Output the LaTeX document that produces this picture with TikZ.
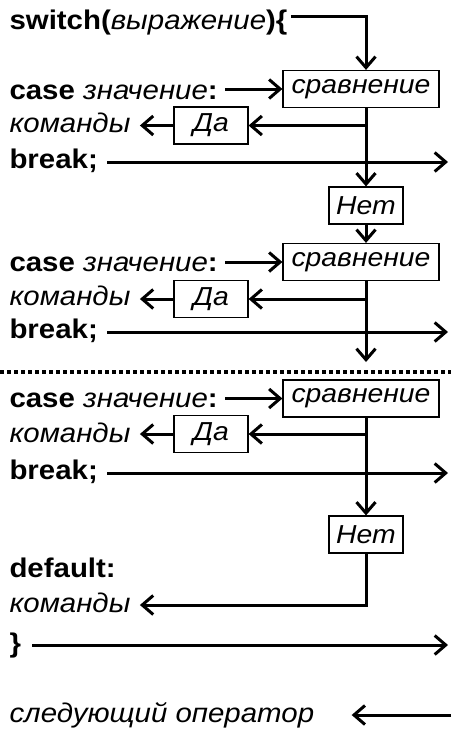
\documentclass[tikz,border=0pt]{standalone}
\usepackage{fontspec}
\setmainfont{Liberation Sans}[FakeStretch=1.09]
\usetikzlibrary{positioning,arrows.meta}

\begin{document}
\begin{tikzpicture}[x=1pt,y=-1pt,line width=3pt,
      font=\fontsize{27}{32}\selectfont,
      txt/.style={anchor=base west,inner sep=0pt},
      box/.style={draw,line width=1.2pt,inner sep=0pt,minimum height=37pt,font=\fontsize{26}{31}\selectfont\itshape},
      arr/.style={-{Straight Barb[length=11pt,width=19pt]}}]
    \useasboundingbox (0,0) rectangle (451,729);
    % switch head
    \node[txt] (sw) at (8,29) {\textbf{switch(}\textit{выражение}\textbf{)\{}};
    \coordinate (top) at (366,16);
    % first case
    \node[box,minimum width=156pt] (cmp1) at (361,89) {сравнение};
    \node[txt] (case1) at (8,99) {\textbf{case} \textit{значение}\textbf{:}};
    \node[box,minimum width=74pt] (da1) at (211,125.5) {Да};
    \node[txt] (cmd1) at (8,132) {\textit{команды}};
    \node[txt] (brk1) at (8,168) {\textbf{break;}};
    \coordinate (out1) at (448,162);
    \node[box,minimum width=74pt] (no1) at (366,205.5) {Нет};
    % second case
    \node[box,minimum width=156pt] (cmp2) at (361,262) {сравнение};
    \node[txt] (case2) at (8,271) {\textbf{case} \textit{значение}\textbf{:}};
    \node[box,minimum width=74pt] (da2) at (211,299) {Да};
    \node[txt] (cmd2) at (8,305) {\textit{команды}};
    \node[txt] (brk2) at (8,338) {\textbf{break;}};
    \coordinate (out2) at (448,332);
    \coordinate (dn2) at (366,362);
    % last case
    \node[box,minimum width=156pt] (cmp3) at (361,398.5) {сравнение};
    \node[txt] (case3) at (8,407) {\textbf{case} \textit{значение}\textbf{:}};
    \node[box,minimum width=74pt] (da3) at (211,434) {Да};
    \node[txt] (cmd3) at (8,442) {\textit{команды}};
    \node[txt] (brk3) at (8,479) {\textbf{break;}};
    \coordinate (out3) at (448,473);
    \node[box,minimum width=74pt] (no3) at (366,534.5) {Нет};
    % default and end
    \node[txt] (dflt) at (8,577) {\textbf{default:}};
    \node[txt] (cmd4) at (8,612) {\textit{команды}};
    \coordinate (back) at (366,605);
    \node[txt] (cls) at (8,652) {\textbf{\}}};
    \coordinate (out4) at (448,645);
    \node[txt] (nxt) at (8,722) {\textit{следующий оператор}};
    \coordinate (ret) at (451,715);

    % connectors
    \draw[arr] ([xshift=2pt]sw.east |- top) -- (top) -- (top |- cmp1.north);
    \foreach \i in {1,2,3} {
      \draw[arr] ([xshift=6pt]case\i.east |- cmp\i.west) -- (cmp\i.west);
      \draw[arr] (no1 |- da\i.east) -- (da\i.east);
      \draw[arr] (da\i.west) -- ([xshift=8pt]cmd\i.east |- da\i.west);
      \draw[arr] ([xshift=8pt]brk\i.east |- out\i) -- (out\i);
    }
    \draw[arr] (no1 |- cmp1.south) -- (no1.north);
    \draw[arr] (no1.south) -- (no1 |- cmp2.north);
    \draw[arr] (no1 |- cmp2.south) -- (dn2);
    \draw[line width=3.5pt,dash pattern=on 4pt off 3pt] (0,372) -- (451,372);
    \draw[arr] (no3 |- cmp3.south) -- (no3.north);
    \draw[arr] (no3.south) -- (back) -- ([xshift=8pt]cmd4.east |- back);
    \draw[arr] ([xshift=10pt]cls.east |- out4) -- (out4);
    \draw[arr] (ret) -- ([xshift=36pt]nxt.east |- ret);
  \end{tikzpicture}
\end{document}
